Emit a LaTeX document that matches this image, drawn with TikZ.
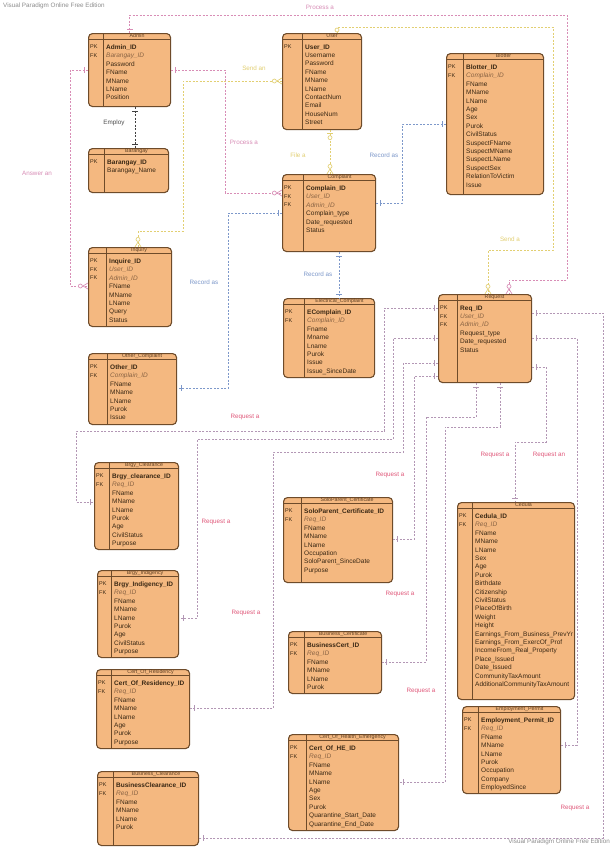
\documentclass[tikz,border=0pt]{standalone}
\usepackage{fontspec}
\setmainfont{Liberation Sans}
\usepackage{tikz}
\usetikzlibrary{arrows.meta}
\usetikzlibrary{decorations.markings}

\definecolor{entfill}{HTML}{F4B880}
\definecolor{entborder}{HTML}{6E4B2A}
\definecolor{rowtext}{HTML}{3A2814}
\definecolor{fktext}{HTML}{8A6444}
\definecolor{relpinkc}{HTML}{D88DB6}
\definecolor{relyellowc}{HTML}{E2CF72}
\definecolor{relbluec}{HTML}{7D98CA}
\definecolor{relreqc}{HTML}{B397B5}
\definecolor{lblred}{HTML}{E0587A}
\definecolor{wmgray}{HTML}{8C8C8C}

\tikzset{
  entbox/.style={draw=entborder, fill=entfill, line width=1.1pt, rounded corners=4pt, inner sep=0pt},
  entline/.style={draw=entborder, line width=0.8pt},
  enttitle/.style={inner sep=0pt, font=\fontsize{5.3}{5.3}\selectfont, text=entborder!85!black},
  entkeys/.style={inner sep=0pt, align=left, font=\fontsize{5.5}{8.4}\selectfont, text=rowtext},
  entrows/.style={inner sep=0pt, align=left, font=\fontsize{6.5}{8.4}\selectfont, text=rowtext},
  rel/.style={dash pattern=on 2pt off 1.5pt, line width=0.65pt},
  relpink/.style={rel, relpinkc},
  relyellow/.style={rel, relyellowc},
  relblue/.style={rel, relbluec},
  relreq/.style={rel, relreqc},
  reldark/.style={rel, black!75},
  lbl/.style={inner sep=0pt, font=\fontsize{6.3}{7}\selectfont},
  one start/.style={postaction={decorate, decoration={markings,
    mark=at position 4pt with {\draw[solid] (0pt,-3pt) -- (0pt,3pt);}}}},
  one end/.style={postaction={decorate, decoration={markings,
    mark=at position -4pt with {\draw[solid] (0pt,-3pt) -- (0pt,3pt);}}}},
  many start/.style={postaction={decorate, decoration={markings,
    mark=at position 0.1pt with {\draw[solid] (5pt,0pt) -- (0pt,3pt) (5pt,0pt) -- (0pt,-3pt);
      \draw[solid, fill=white] (7.5pt,0pt) circle (2pt);}}}},
  many end/.style={postaction={decorate, decoration={markings,
    mark=at position -0.1pt with {\draw[solid] (-5pt,0pt) -- (0pt,3pt) (-5pt,0pt) -- (0pt,-3pt);
      \draw[solid, fill=white] (-7.5pt,0pt) circle (2pt);}}}},
  zero start/.style={postaction={decorate, decoration={markings,
    mark=at position 3pt with {\draw[solid, fill=white] (0pt,0pt) circle (2pt);}}}},
  zeroone start/.style={postaction={decorate, decoration={markings,
    mark=at position 3pt with {\draw[solid] (0pt,-3pt) -- (0pt,3pt);
      \draw[solid, fill=white] (4.5pt,0pt) circle (2pt);}}}},
}

% name, x/y of top left, width, height, key column, title, keys, rows
\newcommand{\entity}[8]{%
  \node[entbox, minimum width=#3pt, minimum height=#4pt, anchor=north west] (#1) at (#2) {};
  \draw[entline] ([yshift=-6pt]#1.north west) -- ([yshift=-6pt]#1.north east);
  \draw[entline] ([xshift=#5pt]#1.north west) -- ([xshift=#5pt]#1.south west);
  \node[enttitle] (#1-title) at ([xshift=#5pt/2, yshift=-3pt]#1.north) {#6};
  \node[entkeys, anchor=north west] (#1-keys) at ([xshift=2pt, yshift=-12pt]#1.north west) {#7};
  \node[entrows, anchor=north west] (#1-rows) at ([xshift=#5pt+3pt, yshift=-11.5pt]#1.north west) {#8};
}
\newcommand{\fk}[1]{\textit{\color{fktext}#1}}

\begin{document}
\begin{tikzpicture}[x=1pt, y=-1pt]
    \fill[white] (0,0) rectangle (613,847);
    \useasboundingbox (0,0) rectangle (613,847);
    \node[lbl, wmgray, anchor=west] (wmtop) at (3,6) {Visual Paradigm Online Free Edition};
    \node[lbl, wmgray, anchor=east] (wmbot) at (610,842) {Visual Paradigm Online Free Edition};
    %tables
    \entity{admin}{88,33}{82}{73}{15}{Admin}{PK\\FK}
      {\textbf{Admin\_ID}\\\fk{Barangay\_ID}\\Password\\FName\\MName\\LName\\Position}
    \entity{barangay}{88,148}{80}{44}{16}{Barangay}{PK}
      {\textbf{Barangay\_ID}\\Barangay\_Name}
    \entity{user}{282,33}{79}{96}{20}{User}{PK}
      {\textbf{User\_ID}\\Username\\Password\\FName\\MName\\LName\\ContactNum\\Email\\HouseNum\\Street}
    \entity{blotter}{446,53}{97}{141}{17}{Blotter}{PK\\FK}
      {\textbf{Blotter\_ID}\\\fk{Complain\_ID}\\FName\\MName\\LName\\Age\\Sex\\Purok\\CivilStatus\\SuspectFName\\SuspectMName\\SuspectLName\\SuspectSex\\RelationToVictim\\Issue}
    \entity{complaint}{282,174}{93}{77}{21}{Complaint}{PK\\FK\\FK}
      {\textbf{Complain\_ID}\\\fk{User\_ID}\\\fk{Admin\_ID}\\Complain\_type\\Date\_requested\\Status}
    \entity{electrical}{283,298}{91}{79}{21}{Electrical\_Complaint}{PK\\FK}
      {\textbf{EComplain\_ID}\\\fk{Complain\_ID}\\Fname\\Mname\\Lname\\Purok\\Issue\\Issue\_SinceDate}
    \entity{request}{438,294}{93}{88}{19}{Request}{PK\\FK\\FK}
      {\textbf{Req\_ID}\\\fk{User\_ID}\\\fk{Admin\_ID}\\Request\_type\\Date\_requested\\Status}
    \entity{inquiry}{88,247}{83}{79}{18}{Inquiry}{PK\\FK\\FK}
      {\textbf{Inquire\_ID}\\\fk{User\_ID}\\\fk{Admin\_ID}\\FName\\MName\\LName\\Query\\Status}
    \entity{othercomp}{88,353}{88}{71}{19}{Other\_Complaint}{PK\\FK}
      {\textbf{Other\_ID}\\\fk{Complain\_ID}\\FName\\MName\\LName\\Purok\\Issue}
    \entity{brgyclr}{94,462}{84}{87}{15}{Brgy\_Clearance}{PK\\FK}
      {\textbf{Brgy\_clearance\_ID}\\\fk{Req\_ID}\\FName\\MName\\LName\\Purok\\Age\\CivilStatus\\Purpose}
    \entity{brgyind}{97,570}{81}{87}{14}{Brgy\_Indigency}{PK\\FK}
      {\textbf{Brgy\_Indigency\_ID}\\\fk{Req\_ID}\\FName\\MName\\LName\\Purok\\Age\\CivilStatus\\Purpose}
    \entity{residency}{96,669}{93}{79}{15}{Cert\_Of\_Residency}{PK\\FK}
      {\textbf{Cert\_Of\_Residency\_ID}\\\fk{Req\_ID}\\FName\\MName\\LName\\Age\\Purok\\Purpose}
    \entity{bizclr}{97,771}{101}{74}{16}{Business\_Clearance}{PK\\FK}
      {\textbf{BusinessClearance\_ID}\\\fk{Req\_ID}\\FName\\MName\\LName\\Purok}
    \entity{soloparent}{283,497}{109}{85}{18}{SoloParent\_Certificate}{PK\\FK}
      {\textbf{SoloParent\_Certificate\_ID}\\\fk{Req\_ID}\\FName\\MName\\LName\\Occupation\\SoloParent\_SinceDate\\Purpose}
    \entity{bizcert}{288,631}{93}{62}{16}{Business\_Certificate}{PK\\FK}
      {\textbf{BusinessCert\_ID}\\\fk{Req\_ID}\\FName\\MName\\LName\\Purok}
    \entity{healthcert}{288,734}{110}{96}{18}{Cert\_Of\_Health\_Emergency}{PK\\FK}
      {\textbf{Cert\_Of\_HE\_ID}\\\fk{Req\_ID}\\FName\\MName\\LName\\Age\\Sex\\Purok\\Quarantine\_Start\_Date\\Quarantine\_End\_Date}
    \entity{cedula}{457,502}{117}{197}{15}{Cedula}{PK\\FK}
      {\textbf{Cedula\_ID}\\\fk{Req\_ID}\\FName\\MName\\LName\\Sex\\Age\\Purok\\Birthdate\\Citizenship\\CivilStatus\\PlaceOfBirth\\Weight\\Height\\Earnings\_From\_Business\_PrevYr\\Earnings\_From\_ExercOf\_Prof\\IncomeFrom\_Real\_Property\\Place\_Issued\\Date\_Issued\\CommunityTaxAmount\\AdditionalCommunityTaxAmount}
    \entity{emppermit}{462,706}{98}{87}{16}{Employment\_Permit}{PK\\FK}
      {\textbf{Employment\_Permit\_ID}\\\fk{Req\_ID}\\FName\\MName\\LName\\Purok\\Occupation\\Company\\EmployedSince}
    %admin and user links
    \draw[relpink, one start, many end] (admin.north) |- (567,15) |- (509,280) -- (request.north -| 509,0);
    \draw[relpink, one start, many end] (admin.east |- 0,70) -| (225,193) -- (complaint.west |- 0,193);
    \draw[relpink, one start, many end] (admin.west |- 0,70) -| (70,286) -- (inquiry.west |- 0,286);
    \draw[reldark, one start, one end] (admin.south -| 135,0) -- (barangay.north -| 135,0);
    \draw[relyellow, many start, many end] (inquiry.north -| 138,0) |- (183,231) |- (user.west |- 0,81);
    \draw[relyellow, zeroone start, many end] (user.south -| 330,0) -- (complaint.north -| 330,0);
    \draw[relyellow, zero start, many end] (user.north -| 337,0) |- (553,27) |- (488,250) -- (request.north -| 488,0);
    \node[lbl, relpinkc] (procA) at (320,7) {Process a};
    \node[lbl, relpinkc] (procB) at (244,142) {Process a};
    \node[lbl, relpinkc] (answer) at (37,173) {Answer an};
    \node[lbl, black!70] (employ) at (114,123) {Employ};
    \node[lbl, relyellowc] (sendan) at (254,68) {Send an};
    \node[lbl, relyellowc] (filea) at (298,155) {File a};
    \node[lbl, relyellowc] (senda) at (510,239) {Send a};
    %complaint records
    \draw[relblue, one start, one end] (blotter.west |- 0,124) -| (402,203) -- (complaint.east |- 0,203);
    \draw[relblue, one start, one end] (complaint.south -| 339,0) -- (electrical.north -| 339,0);
    \draw[relblue, one start, one end] (complaint.west |- 0,213) -| (228,388) -- (othercomp.east |- 0,388);
    \node[lbl, relbluec] (recA) at (384,155) {Record as};
    \node[lbl, relbluec] (recB) at (318,274) {Record as};
    \node[lbl, relbluec] (recC) at (204,282) {Record as};
    %requests
    \draw[relreq, one start, one end] (request.west |- 0,308) -| (384,431) -| (76,502) -- (brgyclr.west |- 0,502);
    \draw[relreq, one start, one end] (request.west |- 0,338) -| (393,439) -| (197,618) -- (brgyind.east |- 0,618);
    \draw[relreq, one start, one end] (request.west |- 0,363) -| (403,452) -| (273,708) -- (residency.east |- 0,708);
    \draw[relreq, one start, one end] (request.west |- 0,376) -| (414,539) -- (soloparent.east |- 0,539);
    \draw[relreq, one start, one end] (request.south -| 476,0) |- (426,417) |- (bizcert.east |- 0,662);
    \draw[relreq, one start, one end] (request.south -| 500,0) |- (445,427) |- (healthcert.east |- 0,782);
    \draw[relreq, one start, one end] (request.east |- 0,367) -| (546,442) -| (cedula.north -| 515,0);
    \draw[relreq, one start, one end] (request.east |- 0,338) -| (577,745) -- (emppermit.east |- 0,745);
    \draw[relreq, one start, one end] (request.east |- 0,313) -| (603,838) -- (bizclr.east |- 0,838);
    \node[lbl, lblred] (reqA) at (245,417) {Request a};
    \node[lbl, lblred] (reqB) at (216,522) {Request a};
    \node[lbl, lblred] (reqC) at (246,613) {Request a};
    \node[lbl, lblred] (reqD) at (390,475) {Request a};
    \node[lbl, lblred] (reqE) at (400,594) {Request a};
    \node[lbl, lblred] (reqF) at (421,691) {Request a};
    \node[lbl, lblred] (reqG) at (495,455) {Request a};
    \node[lbl, lblred] (reqH) at (549,455) {Request an};
    \node[lbl, lblred] (reqI) at (575,808) {Request a};
\end{tikzpicture}
\end{document}
